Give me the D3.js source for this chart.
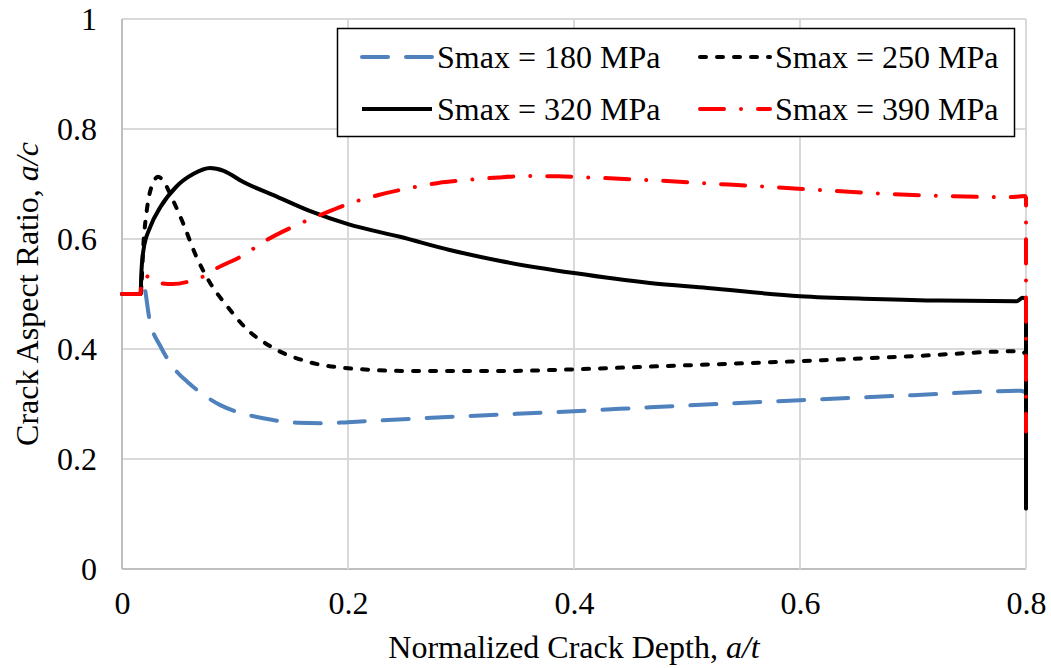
<!DOCTYPE html>
<html>
<head>
<meta charset="utf-8">
<script src="https://cdn.jsdelivr.net/npm/d3@7"></script>
<style>
    body { margin: 0; background: #fff; }
    text { font-family: "Liberation Serif", "Times New Roman", serif; fill: #000; }
</style>
</head>
<body>
<script>
// series data
const depth180 = [0, 0.0165, 0.018, 0.025, 0.034, 0.048, 0.058, 0.07, 0.087, 0.1, 0.125, 0.155, 0.18, 0.2, 0.255, 0.305, 0.4, 0.467, 0.6, 0.7, 0.795, 0.8, 0.8];
const ratio180 = [0.5, 0.5, 0.525, 0.447, 0.405, 0.36, 0.34, 0.32, 0.298, 0.287, 0.274, 0.266, 0.265, 0.267, 0.273, 0.278, 0.287, 0.294, 0.307, 0.316, 0.324, 0.32, 0.11];

const depth250 = [0, 0.0165, 0.019, 0.022, 0.027, 0.032, 0.036, 0.045, 0.054, 0.066, 0.078, 0.093, 0.11, 0.132, 0.166, 0.2, 0.255, 0.335, 0.4, 0.467, 0.6, 0.7, 0.795, 0.8, 0.8];
const ratio250 = [0.5, 0.5, 0.593, 0.653, 0.70, 0.713, 0.707, 0.671, 0.629, 0.567, 0.52, 0.478, 0.437, 0.404, 0.376, 0.365, 0.36, 0.36, 0.363, 0.368, 0.378, 0.387, 0.396, 0.39, 0.11];

const depth320 = [0, 0.0165, 0.017, 0.019, 0.025, 0.034, 0.048, 0.063, 0.078, 0.09, 0.107, 0.137, 0.166, 0.2, 0.246, 0.29, 0.335, 0.4, 0.467, 0.518, 0.6, 0.665, 0.724, 0.792, 0.797, 0.8, 0.8];
const ratio320 = [0.5, 0.5, 0.532, 0.58, 0.622, 0.658, 0.695, 0.718, 0.729, 0.724, 0.704, 0.677, 0.651, 0.627, 0.604, 0.58, 0.56, 0.538, 0.52, 0.511, 0.496, 0.491, 0.488, 0.487, 0.493, 0.49, 0.11];

const depth390 = [0, 0.0165, 0.017, 0.02, 0.033, 0.045, 0.058, 0.071, 0.084, 0.106, 0.128, 0.151, 0.177, 0.202, 0.227, 0.253, 0.28, 0.305, 0.333, 0.358, 0.386, 0.412, 0.467, 0.519, 0.572, 0.625, 0.678, 0.731, 0.784, 0.799, 0.8, 0.8];
const ratio390 = [0.5, 0.5, 0.525, 0.533, 0.52, 0.518, 0.522, 0.531, 0.547, 0.569, 0.598, 0.622, 0.645, 0.665, 0.68, 0.692, 0.702, 0.707, 0.712, 0.7145, 0.714, 0.712, 0.707, 0.701, 0.695, 0.688, 0.682, 0.678, 0.676, 0.678, 0.675, 0.25];

const seriesNames = ["Smax = 180 MPa", "Smax = 250 MPa", "Smax = 320 MPa", "Smax = 390 MPa"];
const xTicks = [0, 0.2, 0.4, 0.6, 0.8];
const yTicks = [0, 0.2, 0.4, 0.6, 0.8, 1];

const width = 1051, height = 668;
const plotLeft = 122, plotRight = 1026, plotTop = 19, plotBottom = 569;

const svg = d3.select("body").append("svg")
    .attr("width", width)
    .attr("height", height);

const x = d3.scaleLinear().domain([0, 0.8]).range([plotLeft, plotRight]);
const y = d3.scaleLinear().domain([0, 1]).range([plotBottom, plotTop]);

// grid
svg.append("g").selectAll("line")
    .data(yTicks)
    .enter().append("line")
    .attr("x1", plotLeft).attr("x2", plotRight)
    .attr("y1", d => y(d)).attr("y2", d => y(d))
    .attr("stroke", d => d === 0 ? "#bfbfbf" : "#d9d9d9")
    .attr("stroke-width", 2);

svg.append("g").selectAll("line")
    .data(xTicks)
    .enter().append("line")
    .attr("x1", d => x(d)).attr("x2", d => x(d))
    .attr("y1", plotTop).attr("y2", plotBottom)
    .attr("stroke", d => d === 0 ? "#bfbfbf" : "#d9d9d9")
    .attr("stroke-width", 2);

// axes (labels only)
const fmt = d => String(+d.toFixed(1));

const xAxis = svg.append("g")
    .attr("transform", "translate(0," + plotBottom + ")")
    .call(d3.axisBottom(x).tickValues(xTicks).tickFormat(fmt).tickSize(0).tickPadding(22));
xAxis.select(".domain").remove();
xAxis.attr("font-family", null).attr("font-size", null);
xAxis.selectAll("text").style("font-size", "32px");

const yAxis = svg.append("g")
    .attr("transform", "translate(" + plotLeft + ",0)")
    .call(d3.axisLeft(y).tickValues(yTicks).tickFormat(fmt).tickSize(0).tickPadding(25));
yAxis.select(".domain").remove();
yAxis.attr("font-family", null).attr("font-size", null);
yAxis.selectAll("text").style("font-size", "32px");

// axis titles
const xTitle = svg.append("text")
    .attr("x", (plotLeft + plotRight) / 2)
    .attr("y", 658)
    .attr("text-anchor", "middle")
    .style("font-size", "32px");
xTitle.append("tspan").text("Normalized Crack Depth, ");
xTitle.append("tspan").style("font-style", "italic").text("a/t");

const yTitle = svg.append("text")
    .attr("transform", "translate(38," + ((plotTop + plotBottom) / 2) + ") rotate(-90)")
    .attr("text-anchor", "middle")
    .style("font-size", "32px");
yTitle.append("tspan").text("Crack Aspect Ratio, ");
yTitle.append("tspan").style("font-style", "italic").text("a/c");

// series
const series = [
    { name: seriesNames[0], xs: depth180, ys: ratio180, color: "#4f81bd", dash: "26,18" },
    { name: seriesNames[1], xs: depth250, ys: ratio250, color: "#000000", dash: "6,11" },
    { name: seriesNames[2], xs: depth320, ys: ratio320, color: "#000000", dash: null },
    { name: seriesNames[3], xs: depth390, ys: ratio390, color: "#ff0000", dash: "24,17,0.01,17" }
];

const line = d3.line()
    .x(d => x(d[0]))
    .y(d => y(d[1]))
    .curve(d3.curveMonotoneX);

svg.append("g").selectAll("path")
    .data(series)
    .enter().append("path")
    .attr("d", s => line(s.xs.map((v, i) => [v, s.ys[i]])))
    .attr("fill", "none")
    .attr("stroke", s => s.color)
    .attr("stroke-width", 4)
    .attr("stroke-linecap", s => s.dash ? "round" : "butt")
    .attr("stroke-linejoin", "round")
    .attr("stroke-dasharray", s => s.dash);

// legend
const legend = svg.append("g");
legend.append("rect")
    .attr("x", 337.5).attr("y", 28.5)
    .attr("width", 677).attr("height", 108)
    .attr("fill", "#fff")
    .attr("stroke", "#000")
    .attr("stroke-width", 1.5);

const cols = [362, 700];
const rows = [68, 120];
const items = legend.selectAll("g")
    .data(series)
    .enter().append("g")
    .attr("transform", (s, i) => "translate(" + cols[i % 2] + "," + rows[Math.floor(i / 2)] + ")");

items.append("line")
    .attr("x1", 0).attr("x2", 70)
    .attr("y1", -11).attr("y2", -11)
    .attr("stroke", s => s.color)
    .attr("stroke-width", 4)
    .attr("stroke-linecap", s => s.dash ? "round" : "butt")
    .attr("stroke-dasharray", s => s.dash);

items.append("text")
    .attr("x", 75)
    .attr("y", 0)
    .style("font-size", "32px")
    .text(s => s.name);
</script>
</body>
</html>
